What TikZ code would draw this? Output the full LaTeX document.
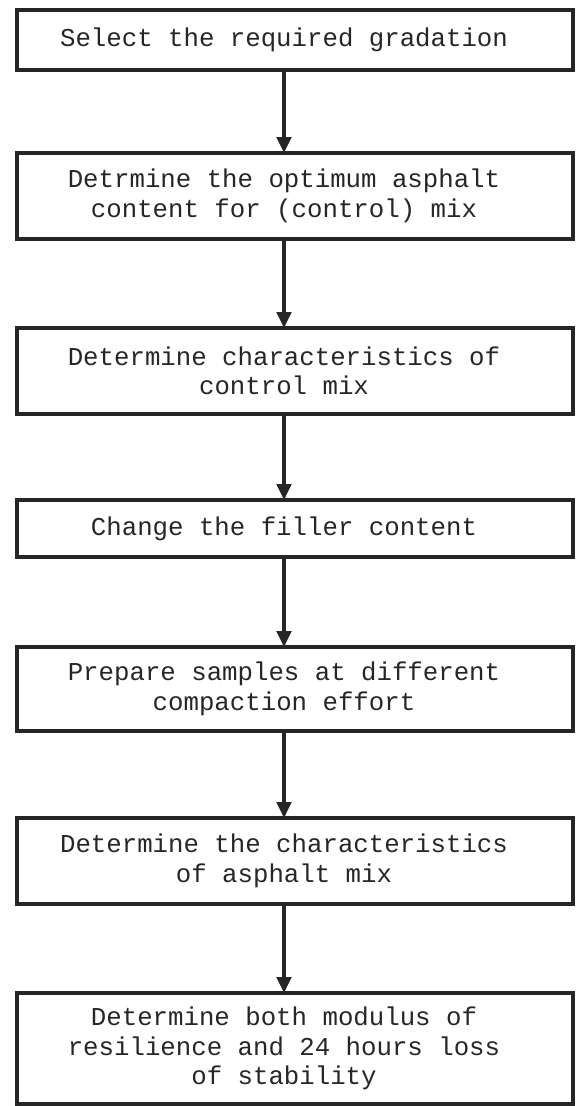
\documentclass[tikz,border=0pt]{standalone}
\usepackage{fontspec}
\setmonofont{Liberation Mono}
\usetikzlibrary{arrows.meta}
\definecolor{ink}{HTML}{262626}
\tikzset{
  stepbox/.style={draw=ink, line width=2.3pt, minimum width=556*0.75pt, inner sep=0pt, outer sep=0pt},
  steptext/.style={text=ink, align=center, inner sep=0pt, font=\ttfamily\fontsize{19.3pt}{22pt}\selectfont},
  arr/.style={draw=ink, line width=2.3pt, -{Triangle[length=12pt,width=11pt]}, shorten >=0pt}
}
\begin{document}
\begin{tikzpicture}[x=0.75pt,y=-0.75pt]
\useasboundingbox (0,0) rectangle (580,1106);
% boxes
\node[stepbox, minimum height=60*0.75pt]  (b1) at (295,40)    {};
\node[stepbox, minimum height=86*0.75pt]  (b2) at (295,196)   {};
\node[stepbox, minimum height=86*0.75pt]  (b3) at (295,371)   {};
\node[stepbox, minimum height=57*0.75pt]  (b4) at (295,528.5) {};
\node[stepbox, minimum height=84*0.75pt]  (b5) at (295,689)   {};
\node[stepbox, minimum height=86*0.75pt]  (b6) at (295,861)   {};
\node[stepbox, minimum height=111*0.75pt] (b7) at (295,1048.5){};
% texts
\node[steptext] (t1) at (284,40)     {Select the required gradation};
\node[steptext] (t2) at (284,196)    {Detrmine the optimum asphalt\\content for (control) mix};
\node[steptext] (t3) at (284,371)    {Determine characteristics of\\control mix};
\node[steptext] (t4) at (284,528.5)  {Change the filler content};
\node[steptext] (t5) at (284,689)    {Prepare samples at different\\compaction effort};
\node[steptext] (t6) at (284,861)    {Determine the characteristics\\of asphalt mix};
\node[steptext] (t7) at (284,1048.5) {Determine both modulus of\\resilience and 24 hours loss\\of stability};
% arrows
\draw[arr] (b1.south -| t1) -- (b2.north -| t2);
\draw[arr] (b2.south -| t2) -- (b3.north -| t3);
\draw[arr] (b3.south -| t3) -- (b4.north -| t4);
\draw[arr] (b4.south -| t4) -- (b5.north -| t5);
\draw[arr] (b5.south -| t5) -- (b6.north -| t6);
\draw[arr] (b6.south -| t6) -- (b7.north -| t7);
\end{tikzpicture}
\end{document}
